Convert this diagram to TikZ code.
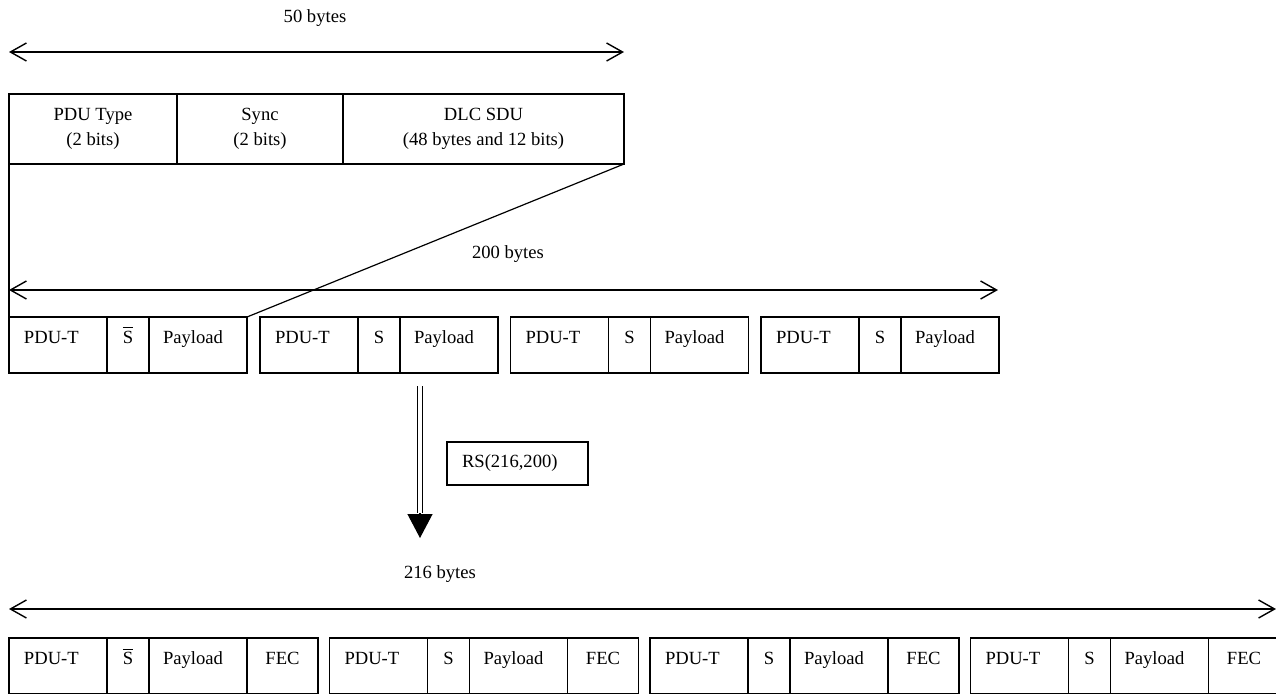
\documentclass[tikz,border=0pt]{standalone}
\usepackage{fontspec}
\setmainfont{Liberation Serif}
\usetikzlibrary{arrows.meta}

\tikzstyle{field} = [draw, outer sep=0pt, inner ysep=0pt, anchor=north west, text height=13pt, text depth=15pt]
\tikzstyle{pduField} = [field, inner xsep=7.5pt, text width=34pt, align=left]
\tikzstyle{syncField} = [field, inner xsep=0pt, minimum width=21pt, align=center]
\tikzstyle{payField} = [field, inner xsep=7pt, text width=35pt, align=left]
\tikzstyle{fecField} = [field, inner xsep=0pt, minimum width=35.5pt, align=center]
\tikzstyle{headerField} = [draw, outer sep=0pt, anchor=north west, minimum height=35pt, inner xsep=0pt, align=center]
\tikzstyle{codeBox} = [draw, minimum height=21.5pt, inner xsep=7.5pt, text width=55.5pt, align=left]
\tikzstyle{span} = [draw, line width=0.7pt, {Straight Barb[length=8pt, width=9pt]}-{Straight Barb[length=8pt, width=9pt]}]

\begin{document}
\begin{tikzpicture}[x=0.5pt, y=-0.5pt, line width=0.6pt, font=\fontsize{9.3}{12.5}\selectfont]
		\useasboundingbox (0,0) rectangle (1276,693);

		% 50 byte frame
		\path (315,18) node (fiftyText) {50 bytes};
		\coordinate (fiftyLeft) at (9,52);
		\coordinate (fiftyRight) at (624,52);
		\path [span] (fiftyLeft) -- (fiftyRight);

		\path (9,94) node (pduType) [headerField, minimum width=84pt] {PDU Type\\(2 bits)};
		\path (pduType.north east) node (syncType) [headerField, minimum width=83pt] {Sync\\(2 bits)};
		\path (syncType.north east) node (dlcSdu) [headerField, minimum width=140.5pt] {DLC SDU\\(48 bytes and 12 bits)};

		% 200 byte block
		\path (508,254) node (twoHundredText) {200 bytes};
		\coordinate (twoHundredLeft) at (9,290);
		\coordinate (twoHundredRight) at (998,290);
		\path [span] (twoHundredLeft) -- (twoHundredRight);

		\path (9,317) node (pduA) [pduField] {PDU-T};
		\path (pduA.north east) node (syncA) [syncField] {$\overline{\hbox{S}}$};
		\path (syncA.north east) node (payA) [payField] {Payload};

		\path (260,317) node (pduB) [pduField] {PDU-T};
		\path (pduB.north east) node (syncB) [syncField] {S};
		\path (syncB.north east) node (payB) [payField] {Payload};

		\path (510.5,317) node (pduC) [pduField] {PDU-T};
		\path (pduC.north east) node (syncC) [syncField] {S};
		\path (syncC.north east) node (payC) [payField] {Payload};

		\path (761,317) node (pduD) [pduField] {PDU-T};
		\path (pduD.north east) node (syncD) [syncField] {S};
		\path (syncD.north east) node (payD) [payField] {Payload};

		\path [draw] (pduType.south west) -- (pduA.north west);
		\path [draw] (dlcSdu.south east) -- (payA.north east);

		% Reed-Solomon coding
		\coordinate (rsStart) at (420,386);
		\coordinate (rsBase) at (420,513);
		\coordinate (rsTip) at (420,538);
		\path [draw, line width=0.5pt, double, double distance=1.7pt] (rsStart) -- (rsBase);
		\path [draw, -{Triangle[length=12pt, width=12.5pt]}] (rsBase) -- (rsTip);
		\path (517.5,463.5) node (rsCode) [codeBox] {RS(216,200)};

		% 216 byte block
		\path (440,574) node (twoSixteenText) {216 bytes};
		\coordinate (twoSixteenLeft) at (9,609);
		\coordinate (twoSixteenRight) at (1276,609);
		\path [span] (twoSixteenLeft) -- (twoSixteenRight);

		\path (9,638) node (pduE) [pduField] {PDU-T};
		\path (pduE.north east) node (syncE) [syncField] {$\overline{\hbox{S}}$};
		\path (syncE.north east) node (payE) [payField] {Payload};
		\path (payE.north east) node (fecE) [fecField] {FEC};

		\path (329.5,638) node (pduF) [pduField] {PDU-T};
		\path (pduF.north east) node (syncF) [syncField] {S};
		\path (syncF.north east) node (payF) [payField] {Payload};
		\path (payF.north east) node (fecF) [fecField] {FEC};

		\path (650,638) node (pduG) [pduField] {PDU-T};
		\path (pduG.north east) node (syncG) [syncField] {S};
		\path (syncG.north east) node (payG) [payField] {Payload};
		\path (payG.north east) node (fecG) [fecField] {FEC};

		\path (970.5,638) node (pduH) [pduField] {PDU-T};
		\path (pduH.north east) node (syncH) [syncField] {S};
		\path (syncH.north east) node (payH) [payField] {Payload};
		\path (payH.north east) node (fecH) [fecField] {FEC};
\end{tikzpicture}
\end{document}
